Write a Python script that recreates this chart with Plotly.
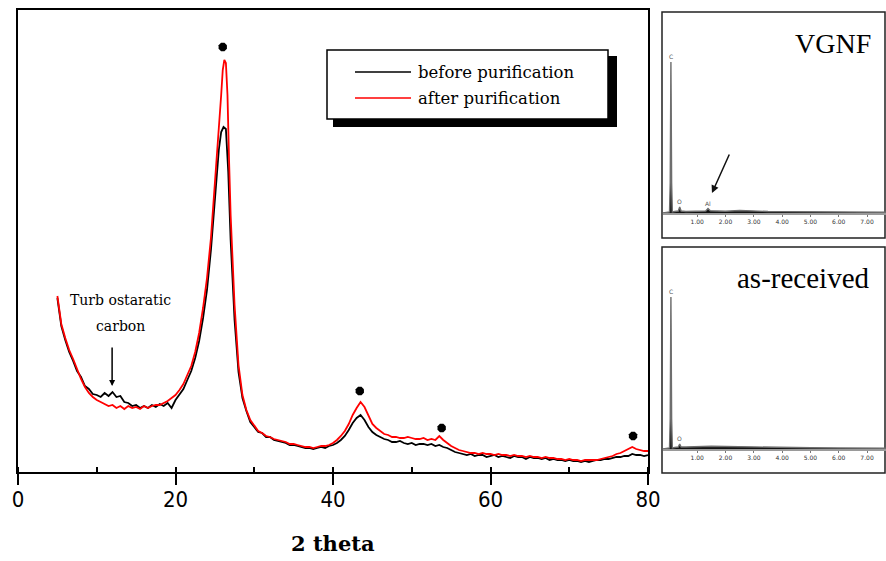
import plotly.graph_objects as go

W, H = 886, 561

# ---------------- main XRD data (intensity in a.u.) ----------------
two_theta_before = [5.0, 5.5, 6.0, 6.5, 7.0, 7.5, 8.0, 8.5, 9.0, 9.5, 10.0, 10.5, 11.0, 11.5, 12.0, 12.5,
                    13.0, 13.5, 14.0, 14.5, 15.0, 15.5, 16.0, 16.5, 17.0, 17.5, 18.0, 18.5, 19.0, 19.5,
                    20.0, 20.5, 21.0, 21.5, 22.0, 22.5, 23.0, 23.5, 24.0, 24.5, 25.0, 25.5, 25.8, 26.1,
                    26.4, 26.7, 27.0, 27.5, 28.0, 28.5, 29.0, 29.5, 30.0, 30.5, 31.0, 31.5, 32.0, 32.5,
                    33.0, 33.5, 34.0, 34.5, 35.0, 35.5, 36.0, 36.5, 37.0, 37.5, 38.0, 38.5, 39.0, 39.5,
                    40.0, 40.5, 41.0, 41.5, 42.0, 42.5, 43.0, 43.5, 44.0, 44.5, 45.0, 45.5, 46.0, 46.5,
                    47.0, 47.5, 48.0, 48.5, 49.0, 49.5, 50.0, 50.5, 51.0, 51.5, 52.0, 52.5, 53.0, 53.5,
                    54.0, 54.5, 55.0, 55.5, 56.0, 56.5, 57.0, 57.5, 58.0, 58.5, 59.0, 59.5, 60.0, 60.5,
                    61.0, 61.5, 62.0, 62.5, 63.0, 63.5, 64.0, 64.5, 65.0, 65.5, 66.0, 66.5, 67.0, 67.5,
                    68.0, 68.5, 69.0, 69.5, 70.0, 70.5, 71.0, 71.5, 72.0, 72.5, 73.0, 73.5, 74.0, 74.5,
                    75.0, 75.5, 76.0, 76.5, 77.0, 77.5, 78.0, 78.5, 79.0, 79.5, 80.0]
intensity_before = [174, 146, 132, 120, 111, 101, 95, 86, 83, 78, 77, 75, 79, 76, 80, 75,
                    76, 70, 69, 66, 67, 64, 66, 64, 67, 65, 68, 66, 69, 64,
                    72, 77, 83, 92, 101, 114, 131, 154, 182, 222, 272, 322, 340, 345,
                    343, 300, 232, 152, 100, 74, 61, 50, 45, 40, 39, 35, 35, 32,
                    31, 30, 29, 27, 27, 26, 25, 24, 24, 23, 24, 25, 24, 26,
                    27, 29, 32, 36, 42, 49, 54, 57, 52, 45, 40, 37, 35, 33,
                    32, 30, 30, 31, 29, 28, 29, 27, 28, 28, 27, 28, 26, 27,
                    25, 24, 22, 20, 19, 18, 17, 18, 16, 17, 17, 15, 16, 17,
                    15, 16, 15, 14, 16, 15, 15, 13, 15, 14, 14, 13, 14, 12,
                    13, 12, 12, 11, 12, 11, 11, 10, 11, 10, 11, 12, 12, 13,
                    13, 14, 15, 15, 16, 16, 18, 17, 17, 16, 17]

two_theta_after = [5.0, 5.5, 6.0, 6.5, 7.0, 7.5, 8.0, 8.5, 9.0, 9.5, 10.0, 10.5, 11.0, 11.5, 12.0, 12.5,
                   13.0, 13.5, 14.0, 14.5, 15.0, 15.5, 16.0, 16.5, 17.0, 17.5, 18.0, 18.5, 19.0, 19.5,
                   20.0, 20.5, 21.0, 21.5, 22.0, 22.5, 23.0, 23.5, 24.0, 24.5, 25.0, 25.5, 25.8, 26.0,
                   26.2, 26.4, 26.6, 26.8, 27.0, 27.5, 28.0, 28.5, 29.0, 29.5, 30.0, 30.5, 31.0, 31.5,
                   32.0, 32.5, 33.0, 33.5, 34.0, 34.5, 35.0, 35.5, 36.0, 36.5, 37.0, 37.5, 38.0, 38.5,
                   39.0, 39.5, 40.0, 40.5, 41.0, 41.5, 42.0, 42.5, 43.0, 43.5, 44.0, 44.5, 45.0, 45.5,
                   46.0, 46.5, 47.0, 47.5, 48.0, 48.5, 49.0, 49.5, 50.0, 50.5, 51.0, 51.5, 52.0, 52.5,
                   53.0, 53.5, 54.0, 54.5, 55.0, 55.5, 56.0, 56.5, 57.0, 57.5, 58.0, 58.5, 59.0, 59.5,
                   60.0, 60.5, 61.0, 61.5, 62.0, 62.5, 63.0, 63.5, 64.0, 64.5, 65.0, 65.5, 66.0, 66.5,
                   67.0, 67.5, 68.0, 68.5, 69.0, 69.5, 70.0, 70.5, 71.0, 71.5, 72.0, 72.5, 73.0, 73.5,
                   74.0, 74.5, 75.0, 75.5, 76.0, 76.5, 77.0, 77.5, 78.0, 78.5, 79.0, 79.5, 80.0]
intensity_after = [176, 148, 134, 122, 113, 102, 93, 85, 79, 75, 72, 70, 68, 66, 67, 64,
                   66, 63, 66, 64, 65, 63, 66, 64, 66, 67, 67, 69, 71, 74,
                   77, 82, 88, 97, 106, 120, 139, 164, 194, 234, 289, 335, 377, 402,
                   412, 409, 377, 312, 257, 167, 107, 77, 62, 52, 46, 41, 39, 36,
                   35, 33, 32, 31, 30, 28, 28, 27, 26, 25, 25, 24, 25, 26,
                   26, 27, 29, 32, 36, 41, 48, 57, 64, 70, 65, 56, 48, 44,
                   41, 38, 37, 35, 35, 34, 34, 35, 34, 33, 33, 34, 32, 33,
                   32, 36, 32, 29, 26, 24, 22, 21, 20, 19, 19, 18, 19, 18,
                   18, 17, 18, 17, 17, 16, 17, 16, 16, 15, 16, 15, 15, 14,
                   15, 14, 14, 13, 13, 12, 13, 12, 12, 11, 12, 12, 12, 12,
                   13, 14, 15, 16, 18, 19, 21, 23, 25, 23, 22, 21, 21]

# graphite reflections marked with dots
peak_marks_theta = [26.0, 43.4, 53.8, 78.1]
peak_marks_height = [425, 81, 44, 36]

x_ticks = [0, 20, 40, 60, 80]

# ---------------- EDS inset spectra (counts) ----------------
eds_energy_vgnf = [-0.25, -0.05, 0.02, 0.045, 0.07, 0.095, 0.12, 0.2, 0.33, 0.38, 0.43, 0.6, 0.9,
                   1.3, 1.38, 1.46, 1.7, 2.0, 2.5, 3.0, 3.5, 4.0, 5.0, 6.0, 7.0, 7.8]
eds_counts_vgnf = [0, 5, 10, 300, 1510, 300, 10, 15, 20, 60, 20, 15, 15,
                   20, 45, 22, 20, 18, 25, 18, 15, 14, 12, 10, 9, 8]
eds_energy_raw = [-0.25, -0.05, 0.02, 0.045, 0.07, 0.095, 0.12, 0.2, 0.33, 0.38, 0.43, 0.6, 0.9,
                  1.3, 1.5, 2.0, 2.5, 3.0, 3.5, 4.0, 5.0, 6.0, 7.0, 7.8]
eds_counts_raw = [0, 5, 10, 300, 1520, 300, 10, 15, 20, 50, 20, 20, 25,
                  30, 28, 25, 22, 18, 15, 14, 12, 10, 9, 8]
eds_ticks = [1, 2, 3, 4, 5, 6, 7]
eds_tick_text = ["1.00", "2.00", "3.00", "4.00", "5.00", "6.00", "7.00"]


def px(x):
    return x / W


def py(y):
    return 1 - y / H


SERIF = "DejaVu Serif"

fig = go.Figure()

fig.add_trace(go.Scatter(x=two_theta_before, y=intensity_before, mode="lines",
                         line=dict(color="black", width=1.8), name="before purification",
                         xaxis="x", yaxis="y"))
fig.add_trace(go.Scatter(x=two_theta_after, y=intensity_after, mode="lines",
                         line=dict(color="#ff0000", width=1.8), name="after purification",
                         xaxis="x", yaxis="y"))
fig.add_trace(go.Scatter(x=peak_marks_theta, y=peak_marks_height, mode="markers",
                         marker=dict(symbol="octagon", size=9, color="black"),
                         xaxis="x", yaxis="y", name="graphite"))

# EDS insets
fig.add_trace(go.Scatter(x=eds_energy_vgnf, y=eds_counts_vgnf, mode="lines",
                         line=dict(color="#6e6e6e", width=1.4), fill="tozeroy",
                         fillcolor="#111111", xaxis="x2", yaxis="y2", name="VGNF"))
fig.add_trace(go.Scatter(x=eds_energy_raw, y=eds_counts_raw, mode="lines",
                         line=dict(color="#6e6e6e", width=1.4), fill="tozeroy",
                         fillcolor="#111111", xaxis="x3", yaxis="y3", name="as-received"))

shapes = []
# inset frames
shapes.append(dict(type="rect", xref="paper", yref="paper", x0=px(662), x1=px(885),
                   y0=py(238), y1=py(12), line=dict(color="#222", width=1.5), layer="below"))
shapes.append(dict(type="rect", xref="paper", yref="paper", x0=px(662), x1=px(885),
                   y0=py(473), y1=py(247), line=dict(color="#222", width=1.5), layer="below"))
# legend with drop shadow
shapes.append(dict(type="rect", xref="paper", yref="paper", x0=px(333), x1=px(617),
                   y0=py(127), y1=py(56), line=dict(width=0), fillcolor="black", layer="above"))
shapes.append(dict(type="rect", xref="paper", yref="paper", x0=px(327), x1=px(608),
                   y0=py(119), y1=py(50), line=dict(color="black", width=1.5),
                   fillcolor="white", layer="above"))
shapes.append(dict(type="line", xref="paper", yref="paper", x0=px(355), x1=px(411),
                   y0=py(72), y1=py(72), line=dict(color="black", width=1.5), layer="above"))
shapes.append(dict(type="line", xref="paper", yref="paper", x0=px(355), x1=px(411),
                   y0=py(98), y1=py(98), line=dict(color="#ff0000", width=1.5), layer="above"))

annotations = [
    dict(xref="paper", yref="paper", x=px(416), y=py(72), text="before purification",
         showarrow=False, xanchor="left", yanchor="middle",
         font=dict(family=SERIF, size=16.5, color="black")),
    dict(xref="paper", yref="paper", x=px(416), y=py(98), text="after purification",
         showarrow=False, xanchor="left", yanchor="middle",
         font=dict(family=SERIF, size=16.5, color="black")),
    dict(xref="paper", yref="paper", x=px(120), y=py(300), text="Turb ostaratic",
         showarrow=False, xanchor="center", yanchor="middle",
         font=dict(family=SERIF, size=14, color="black")),
    dict(xref="paper", yref="paper", x=px(120), y=py(326), text="carbon",
         showarrow=False, xanchor="center", yanchor="middle",
         font=dict(family=SERIF, size=14, color="black")),
    dict(xref="x", yref="y", x=11.95, y=86, ax=0, ay=-40, text="", showarrow=True,
         arrowhead=2, arrowsize=0.8, arrowwidth=1.5, arrowcolor="black"),
    dict(xref="paper", yref="paper", x=px(333), y=py(543), text="<b>2 theta</b>",
         showarrow=False, xanchor="center", yanchor="middle",
         font=dict(family=SERIF, size=21, color="black")),
    # inset texts
    dict(xref="paper", yref="paper", x=px(833), y=py(44), text="VGNF", showarrow=False,
         xanchor="center", yanchor="middle",
         font=dict(family="Liberation Serif", size=28, color="black")),
    dict(xref="paper", yref="paper", x=px(803), y=py(278), text="as-received", showarrow=False,
         xanchor="center", yanchor="middle",
         font=dict(family="Liberation Serif", size=29, color="black")),
    dict(xref="x2", yref="y2", x=0.07, y=1510, text="C", showarrow=False, yanchor="bottom",
         font=dict(family="DejaVu Sans", size=6, color="#555")),
    dict(xref="x2", yref="y2", x=0.38, y=60, text="O", showarrow=False, yanchor="bottom",
         font=dict(family="DejaVu Sans", size=6, color="#555")),
    dict(xref="x2", yref="y2", x=1.38, y=45, text="Al", showarrow=False, yanchor="bottom",
         font=dict(family="DejaVu Sans", size=6, color="#555")),
    dict(xref="x2", yref="y2", x=1.52, y=200, ax=18, ay=-40, text="", showarrow=True,
         arrowhead=2, arrowsize=1, arrowwidth=1.5, arrowcolor="#111"),
    dict(xref="x3", yref="y3", x=0.07, y=1520, text="C", showarrow=False, yanchor="bottom",
         font=dict(family="DejaVu Sans", size=6, color="#555")),
    dict(xref="x3", yref="y3", x=0.38, y=50, text="O", showarrow=False, yanchor="bottom",
         font=dict(family="DejaVu Sans", size=6, color="#555")),
]

inset_x = dict(range=[-0.21, 7.67], showline=True, linecolor="#9a9a9a", linewidth=2,
               tickvals=eds_ticks, ticktext=eds_tick_text, ticks="outside", ticklen=2,
               tickcolor="#777", tickfont=dict(family="DejaVu Sans", size=6, color="#333"),
               showgrid=False, zeroline=False, automargin=False, fixedrange=True)
inset_y = dict(range=[0, 2000], visible=False, showgrid=False, zeroline=False,
               automargin=False, fixedrange=True)

fig.update_layout(
    template="none",
    width=W, height=H,
    margin=dict(l=0, r=0, t=0, b=0),
    paper_bgcolor="white", plot_bgcolor="white",
    showlegend=False,
    xaxis=dict(domain=[px(18), px(648)], anchor="y", range=[0, 80],
               tickvals=x_ticks, ticks="outside", ticklen=11, tickwidth=1.5,
               tickcolor="black", showline=True, mirror=True, linecolor="black",
               linewidth=2, showgrid=False, zeroline=False, automargin=False,
               ticklabelstandoff=-4,
               minor=dict(dtick=10, ticks="inside", ticklen=5, tickwidth=1.5,
                          tickcolor="black", showgrid=False),
               tickfont=dict(family="DejaVu Sans Condensed, Liberation Sans Narrow, sans-serif",
                             size=22, color="black")),
    yaxis=dict(domain=[py(472), py(10)], anchor="x", range=[0, 462],
               showticklabels=False, ticks="", showline=True, mirror=True,
               linecolor="black", linewidth=2, showgrid=False, zeroline=False,
               automargin=False),
    xaxis2=dict(domain=[px(663), 1.0], anchor="y2", **inset_x),
    yaxis2=dict(domain=[py(213), py(13)], anchor="x2", **inset_y),
    xaxis3=dict(domain=[px(663), 1.0], anchor="y3", **inset_x),
    yaxis3=dict(domain=[py(449), py(249)], anchor="x3", **inset_y),
    shapes=shapes,
    annotations=annotations,
)

fig.write_html("out.html", config={"displayModeBar": False},
               post_script="document.body.style.margin='0px';document.body.style.overflow='hidden';")
